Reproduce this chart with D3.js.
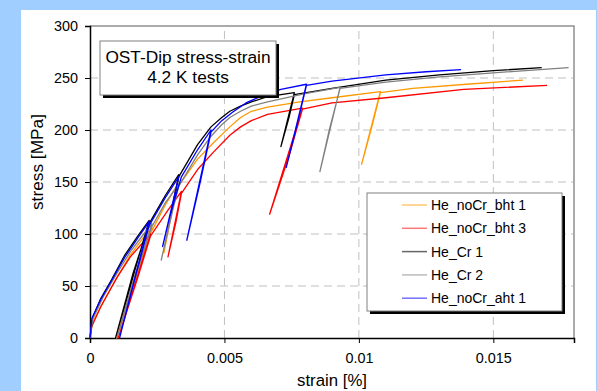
<!DOCTYPE html>
<html>
<head>
<meta charset="utf-8">
<script src="https://cdn.jsdelivr.net/npm/d3@7"></script>
<style>
  html, body { margin: 0; padding: 0; background: #a0cfff; }
  svg { display: block; font-family: "Liberation Sans", Arial, sans-serif; }
</style>
</head>
<body>
<script>
// tick values
const xTicks = [0, 0.005, 0.01, 0.015];
const yTicks = [0, 50, 100, 150, 200, 250, 300];

// series: [strain, stress MPa], loading with unload/reload loops
const heNoCrBht1 = [
  [0, 0], [0.0001, 15], [0.0005, 35], [0.001, 58], [0.0015, 80], [0.002, 97], [0.0023, 106],
  [0.00098, 0], [0.0017, 62], [0.0023, 103], [0.0028, 128], [0.0032, 145],
  [0.00275, 82], [0.003, 115], [0.0032, 143], [0.004, 172], [0.0046, 188], [0.0052, 203],
  [0.0056, 212], [0.006, 218], [0.0066, 222], [0.0078, 227], [0.009, 231], [0.0108, 237],
  [0.0101, 167], [0.0105, 205], [0.0108, 236], [0.012, 240], [0.014, 244], [0.0161, 248]
];
const heNoCrBht3 = [
  [0, 0], [0.00005, 10], [0.0004, 30], [0.001, 58], [0.0015, 78], [0.00225, 100],
  [0.00105, 0], [0.0018, 60], [0.00225, 98], [0.0029, 123], [0.0034, 141],
  [0.0029, 78], [0.0032, 112], [0.0034, 139], [0.004, 162], [0.0046, 179], [0.0052, 195],
  [0.0056, 203], [0.006, 209], [0.0066, 215], [0.0079, 221],
  [0.00668, 119], [0.0074, 175], [0.0079, 220], [0.009, 226], [0.011, 231], [0.0139, 239], [0.017, 243]
];
const heCr1 = [
  [0, 0], [0.0001, 20], [0.0004, 38], [0.0008, 56], [0.0013, 80], [0.0018, 99], [0.0022, 113],
  [0.00095, 0], [0.0016, 62], [0.0022, 110], [0.0028, 137], [0.0033, 157],
  [0.003, 118], [0.0032, 140], [0.0033, 155], [0.004, 186], [0.0045, 203], [0.0049, 212],
  [0.0052, 218], [0.0056, 223], [0.006, 227], [0.0066, 232], [0.0076, 236],
  [0.0071, 184], [0.0074, 212], [0.0076, 234], [0.009, 240], [0.011, 248], [0.013, 253], [0.015, 257], [0.0168, 260]
];
const heCr2 = [
  [0, 0], [0.0001, 18], [0.0005, 40], [0.001, 62], [0.0015, 83], [0.002, 100], [0.0023, 110],
  [0.001, 0], [0.0017, 62], [0.0023, 107], [0.0028, 130], [0.0033, 148],
  [0.00265, 75], [0.003, 115], [0.0033, 146], [0.004, 176], [0.0045, 194], [0.0049, 205],
  [0.0052, 212], [0.0056, 218], [0.006, 223], [0.0066, 227], [0.008, 235], [0.0093, 241],
  [0.00855, 160], [0.0089, 200], [0.0093, 240], [0.011, 246], [0.013, 251], [0.015, 255], [0.0178, 260]
];
const heNoCrAht1 = [
  [0, 0], [0.00007, 19], [0.0004, 37], [0.0008, 55], [0.0013, 78], [0.0018, 97], [0.0022, 112],
  [0.0011, 0], [0.0017, 60], [0.0022, 108], [0.0028, 135], [0.0033, 155],
  [0.0027, 88], [0.003, 120], [0.0034, 155], [0.004, 181], [0.0045, 200],
  [0.0036, 94], [0.0041, 150], [0.0045, 198], [0.0049, 209], [0.0053, 217], [0.0058, 226],
  [0.0065, 234], [0.0071, 239], [0.00805, 244],
  [0.0073, 164], [0.0077, 205], [0.00805, 243], [0.009, 247], [0.011, 253], [0.0125, 256], [0.0138, 258]
];

const seriesNames = ["He_noCr_bht 1", "He_noCr_bht 3", "He_Cr 1", "He_Cr 2", "He_noCr_aht 1"];
const seriesData = [heNoCrBht1, heNoCrBht3, heCr1, heCr2, heNoCrAht1];
const seriesColors = ["#ff9900", "#ff0000", "#000000", "#808080", "#0000ff"];
const legendColors = ["#ffc870", "#ff7878", "#666666", "#bbbbbb", "#7070ff"];

const width = 597, height = 391;
const margin = { left: 90, top: 26, right: 23, bottom: 53 };

const svg = d3.select("body").append("svg")
  .attr("width", width)
  .attr("height", height);

// white panel
svg.append("rect")
  .attr("x", 21).attr("y", 10)
  .attr("width", 575).attr("height", height - 10)
  .attr("fill", "#ffffff");

const x = d3.scaleLinear().domain([0, 0.018]).range([margin.left, width - margin.right]);
const y = d3.scaleLinear().domain([0, 300]).range([height - margin.bottom, margin.top]);

// grid
const grid = svg.append("g").attr("stroke", "#c0c0c0").attr("stroke-dasharray", "8,5");
grid.selectAll("line.h").data(yTicks.slice(1, -1)).enter().append("line")
  .attr("x1", x(0)).attr("x2", x(0.018))
  .attr("y1", d => y(d)).attr("y2", d => y(d));
grid.selectAll("line.v").data(xTicks.slice(1)).enter().append("line")
  .attr("y1", y(0)).attr("y2", y(300))
  .attr("x1", d => x(d)).attr("x2", d => x(d));

// top/right frame
svg.append("path")
  .attr("d", `M${x(0)},${y(300)}H${x(0.018)}V${y(0)}`)
  .attr("fill", "none").attr("stroke", "#909090").attr("stroke-width", 1.5);

// axes
const xAxis = svg.append("g")
  .attr("transform", `translate(0,${y(0)})`)
  .call(d3.axisBottom(x).tickValues(xTicks).tickFormat(d => d === 0 ? "0" : String(d)).tickSize(5).tickPadding(10));
const yAxis = svg.append("g")
  .attr("transform", `translate(${x(0)},0)`)
  .call(d3.axisLeft(y).tickValues(yTicks).tickSize(5).tickPadding(7));
[xAxis, yAxis].forEach(a => {
  a.select(".domain").attr("stroke", "#000").attr("stroke-width", 1.5);
  a.selectAll(".tick line").attr("stroke", "#000");
  a.selectAll("text").attr("font-size", 14.4).attr("fill", "#000")
    .attr("font-family", "'Liberation Sans', Arial, sans-serif");
});

// curves
const line = d3.line().x(d => x(d[0])).y(d => y(d[1]));
svg.append("g").selectAll("path").data(seriesData).enter().append("path")
  .attr("d", line)
  .attr("fill", "none")
  .attr("stroke", (d, i) => seriesColors[i])
  .attr("stroke-width", 1.3)
  .attr("stroke-linejoin", "round");

// axis labels
svg.append("text")
  .attr("x", 332).attr("y", 386)
  .attr("text-anchor", "middle").attr("font-size", 16.8)
  .text("strain [%]");
svg.append("text")
  .attr("transform", "translate(43,162) rotate(-90)")
  .attr("text-anchor", "middle").attr("font-size", 17.3)
  .text("stress [MPa]");

// title box
const tb = svg.append("g").attr("transform", "translate(100,41)");
tb.append("rect").attr("x", 3).attr("y", 3).attr("width", 176).attr("height", 54).attr("fill", "#000");
tb.append("rect").attr("width", 176).attr("height", 54).attr("fill", "#fff")
  .attr("stroke", "#808080").attr("stroke-width", 1);
tb.append("text").attr("x", 88).attr("y", 22).attr("text-anchor", "middle").attr("font-size", 17.3)
  .text("OST-Dip stress-strain");
tb.append("text").attr("x", 88).attr("y", 42).attr("text-anchor", "middle").attr("font-size", 17.3)
  .text("4.2 K tests");

// legend
const lg = svg.append("g").attr("transform", "translate(367,193)");
lg.append("rect").attr("x", 3).attr("y", 3).attr("width", 195).attr("height", 118).attr("fill", "#000");
lg.append("rect").attr("width", 195).attr("height", 118).attr("fill", "#fff")
  .attr("stroke", "#808080").attr("stroke-width", 1);
const items = lg.selectAll("g.item").data(seriesNames).enter().append("g")
  .attr("transform", (d, i) => `translate(0,${12 + i * 23.3})`);
items.append("line")
  .attr("x1", 35).attr("x2", 60).attr("y1", 0).attr("y2", 0)
  .attr("stroke", (d, i) => legendColors[i]).attr("stroke-width", 1.5);
items.append("text")
  .attr("x", 64).attr("y", 5).attr("font-size", 14)
  .text(d => d);
</script>
</body>
</html>
